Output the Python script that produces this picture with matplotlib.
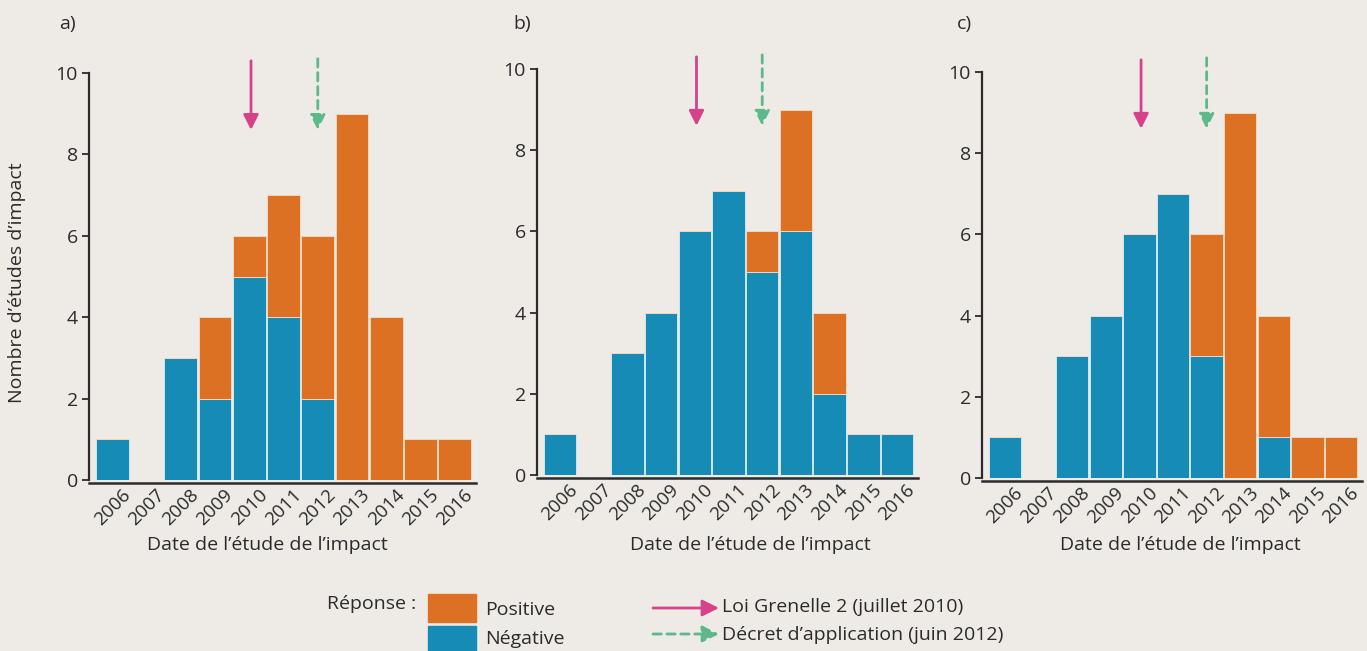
import matplotlib
matplotlib.use("Agg")
import matplotlib.pyplot as plt
from matplotlib.patches import Rectangle, FancyArrowPatch
import matplotlib.transforms as mtransforms
import numpy as np

plt.rcParams['font.family'] = ['Open Sans', 'DejaVu Sans']

years = [2006, 2007, 2008, 2009, 2010, 2011, 2012, 2013, 2014, 2015, 2016]
year_labels = [str(y) for y in years]

neg_a = [1, 0, 3, 2, 5, 4, 2, 0, 0, 0, 0]
pos_a = [0, 0, 0, 2, 1, 3, 4, 9, 4, 1, 1]
neg_b = [1, 0, 3, 4, 6, 7, 5, 6, 2, 1, 1]
pos_b = [0, 0, 0, 0, 0, 0, 1, 3, 2, 0, 0]
neg_c = [1, 0, 3, 4, 6, 7, 3, 0, 1, 0, 0]
pos_c = [0, 0, 0, 0, 0, 0, 3, 9, 3, 1, 1]

panels = ["a)", "b)", "c)"]
loi_year = 2010.05
decret_year = 2012.0

BG = "#EEEBE6"
ORANGE = "#DC7124"
BLUE = "#168BB5"
PINK = "#D6428A"
GREEN = "#5DB88A"
DARK = "#2b2b2b"
FS = 14

fig = plt.figure(figsize=(13.67, 6.51), dpi=100, facecolor=BG)

pos = [
    (89/1367, 1-480/651, (476-89)/1367, (480-73)/651),
    (537/1367, 1-475/651, (918-537)/1367, (475-69)/651),
    (982/1367, 1-478/651, (1362-982)/1367, (478-72)/651),
]
data = [(neg_a, pos_a), (neg_b, pos_b), (neg_c, pos_c)]
label_x = [59, 513, 957]
xlabel_cx = [267, 750, 1180]

for i, ((neg, posv), p) in enumerate(zip(data, pos)):
    ax = fig.add_axes(p)
    ax.set_facecolor(BG)
    x = np.arange(len(years))
    ax.bar(x, neg, width=0.96, color=BLUE, edgecolor="#cfe6ef", linewidth=0.7)
    ax.bar(x, posv, bottom=neg, width=0.96, color=ORANGE, edgecolor="#f2d6bf", linewidth=0.7)
    ax.set_xlim(-0.68, 10.62)
    ax.set_ylim(0, 10)
    ax.set_yticks([0, 2, 4, 6, 8, 10])
    ax.set_xticks(x)
    ax.set_xticklabels(year_labels)
    ax.tick_params(axis="x", length=0, pad=2, labelsize=FS - 0.5, labelcolor=DARK, labelrotation=45)
    off = mtransforms.ScaledTranslation(10/100, 0, fig.dpi_scale_trans)
    for lab in ax.get_xticklabels():
        lab.set_ha("right")
        lab.set_va("top")
        lab.set_rotation_mode("anchor")
        lab.set_transform(lab.get_transform() + off)
    ax.tick_params(axis="y", length=5, width=1.3, color=DARK, labelsize=FS, labelcolor=DARK, pad=3)
    for s in ["top", "right"]:
        ax.spines[s].set_visible(False)
    ax.spines["left"].set_color(DARK)
    ax.spines["bottom"].set_color(DARK)
    ax.spines["left"].set_linewidth(1.6)
    ax.spines["bottom"].set_linewidth(1.8)
    ax.spines["bottom"].set_position(("outward", 2))
    ax.spines["left"].set_bounds(0, 10)
    ax.set_xlabel("Date de l\u2019étude de l\u2019impact", fontsize=FS, color=DARK)
    bottom_px = 651 * (1 - p[1])
    ax.xaxis.set_label_coords((xlabel_cx[i] - 1367*p[0]) / (1367*p[2]),
                              -(545 - bottom_px) / (651*p[3]))
    ax.xaxis.label.set_va("center")
    if i == 0:
        ax.set_ylabel("Nombre d\u2019études d\u2019impact", fontsize=FS, color=DARK)
        ax.yaxis.set_label_coords(-(89 - 17) / (1367*p[2]), (480 - 283) / (651*p[3]))
        ax.yaxis.label.set_va("center")
    xl = loi_year - years[0]
    xd = decret_year - years[0]
    ax.annotate("", xy=(xl, 8.6), xytext=(xl, 10.3),
                arrowprops=dict(arrowstyle="-|>,head_length=0.9,head_width=0.45",
                                color=PINK, lw=2, shrinkA=0, shrinkB=0),
                annotation_clip=False)
    ax.annotate("", xy=(xd, 8.6), xytext=(xd, 10.35),
                arrowprops=dict(arrowstyle="-|>,head_length=0.9,head_width=0.45",
                                color=GREEN, lw=2, linestyle=(0, (3, 2)),
                                shrinkA=0, shrinkB=0),
                annotation_clip=False)
    fig.text(label_x[i]/1367, 1-24/651, panels[i], fontsize=FS, color=DARK,
             ha="left", va="center")

# legend
fig.text(416/1367, 1-604/651, "Réponse :", fontsize=FS, color=DARK, ha="right", va="center")
fig.patches.append(Rectangle((428/1367, 1-622/651), 48/1367, 28/651,
                             transform=fig.transFigure, color=ORANGE, figure=fig))
fig.patches.append(Rectangle((428/1367, 1-652/651), 48/1367, 26/651,
                             transform=fig.transFigure, color=BLUE, figure=fig))
fig.text(485/1367, 1-610/651, "Positive", fontsize=FS, color=DARK, ha="left", va="center")
fig.text(485/1367, 1-639/651, "Négative", fontsize=FS, color=DARK, ha="left", va="center")

a1 = FancyArrowPatch((653/1367, 1-608/651), (719/1367, 1-608/651),
                     transform=fig.transFigure, arrowstyle="-|>,head_length=10,head_width=5",
                     color=PINK, lw=2, mutation_scale=1, shrinkA=0, shrinkB=0, figure=fig)
fig.patches.append(a1)
a2 = FancyArrowPatch((653/1367, 1-634/651), (719/1367, 1-634/651),
                     transform=fig.transFigure, arrowstyle="-|>,head_length=10,head_width=5",
                     color=GREEN, lw=2, linestyle=(0, (3, 2)), mutation_scale=1,
                     shrinkA=0, shrinkB=0, figure=fig)
fig.patches.append(a2)
fig.text(722/1367, 1-607/651, "Loi Grenelle 2 (juillet 2010)", fontsize=FS, color=DARK,
         ha="left", va="center")
fig.text(722/1367, 1-635/651, "Décret d\u2019application (juin 2012)", fontsize=FS, color=DARK,
         ha="left", va="center")

fig.savefig("out.png", dpi=100, facecolor=BG)
